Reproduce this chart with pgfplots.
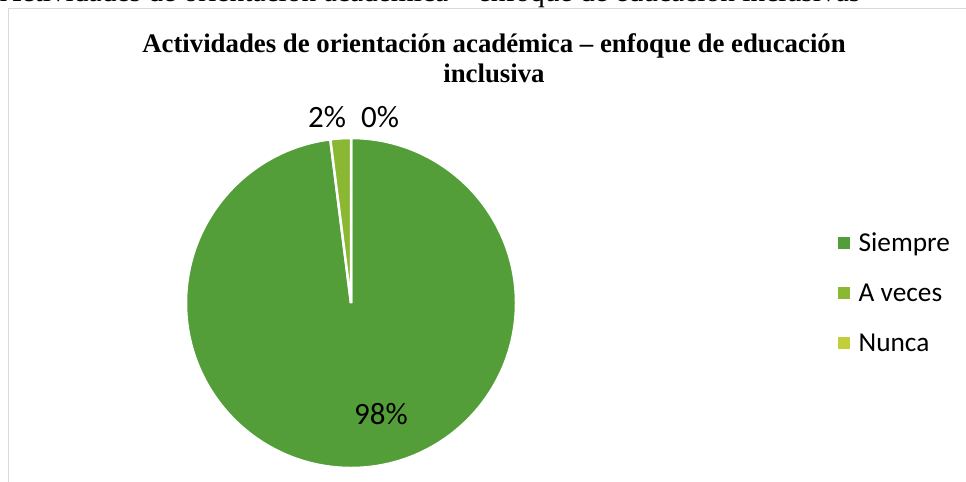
\documentclass[border=0pt]{standalone}
\usepackage{fontspec}
\setmainfont{Liberation Serif}
\newfontfamily\carlito{Carlito}
\usepackage{pgfplots}
\usepackage{pgfplotstable}
\pgfplotsset{compat=1.18}

\definecolor{siempre}{HTML}{549E39}
\definecolor{aveces}{HTML}{8AB833}
\definecolor{nunca}{HTML}{C0CF3A}
\definecolor{marco}{HTML}{D9D9D9}

% porcentajes de cada respuesta
\pgfplotstableread{
resp value
Siempre 98
Aveces 2
Nunca 0
}\piedata

\begin{document}
\begin{tikzpicture}[x=1bp,y=-1bp]
\path[use as bounding box] (0,0) rectangle (966,482);
\clip (0,0) rectangle (966,482);

% texto cortado arriba y marco del grafico
\node[anchor=base west,inner sep=0,font=\fontsize{29.5bp}{34bp}\selectfont] at (0,2)
  {Actividades de orientación académica – enfoque de educación inclusivas};
\draw[marco,line width=1.5bp] (8.5,8.5) rectangle (1100,700);

\node[anchor=base,inner sep=0,font=\bfseries\fontsize{26.8bp}{30bp}\selectfont] at (494,53)
  {Actividades de orientación académica – enfoque de educación};
\node[anchor=base,inner sep=0,font=\bfseries\fontsize{26.8bp}{30bp}\selectfont] at (494,83)
  {inclusiva};

\pgfplotstablegetelem{0}{value}\of\piedata \let\vA\pgfplotsretval
\pgfplotstablegetelem{1}{value}\of\piedata \let\vB\pgfplotsretval
\pgfplotstablegetelem{2}{value}\of\piedata \let\vC\pgfplotsretval
\pgfmathsetmacro\aA{90-3.6*\vA}
\pgfmathsetmacro\aB{\aA-3.6*\vB}
\pgfmathsetmacro\aC{\aB-3.6*\vC}

\begin{axis}[
  at={(351bp,-303bp)}, anchor=center,
  width=330bp, height=330bp, scale only axis,
  xmin=-1, xmax=1, ymin=-1, ymax=1,
  hide axis, clip=false,
  legend style={at={(axis description cs:1.976,0.53)}, anchor=west,
    draw=none, fill=none, inner sep=0pt, row sep=25bp,
    font=\carlito\fontsize{27.3bp}{30bp}\selectfont,
    nodes={text height=21bp, text depth=4bp, inner sep=0pt}},
  legend cell align=left,
]
\fill[siempre,draw=white,line width=2.5bp] (axis cs:0,0) -- ++(90:165bp)
  arc[start angle=90,end angle=\aA,radius=165bp] -- cycle;
\fill[aveces,draw=white,line width=2.5bp] (axis cs:0,0) -- ++(\aA:165bp)
  arc[start angle=\aA,end angle=\aB,radius=165bp] -- cycle;
\fill[nunca,draw=white,line width=2.5bp] (axis cs:0,0) -- ++(\aB:165bp)
  arc[start angle=\aB,end angle=\aC,radius=165bp] -- cycle;

\node[anchor=base,inner sep=0,font=\carlito\fontsize{31bp}{34bp}\selectfont]
  at (axis cs:0.182,-0.738) {98\%};
\node[anchor=base,inner sep=0,font=\carlito\fontsize{31bp}{34bp}\selectfont]
  at (axis cs:-0.145,1.064) {2\%};
\node[anchor=base,inner sep=0,font=\carlito\fontsize{31bp}{34bp}\selectfont]
  at (axis cs:0.176,1.064) {0\%};

\addlegendimage{legend image code/.code={\fill[siempre] (0bp,-5.5bp) rectangle (11bp,5.5bp); \path (20bp,0bp);}}
\addlegendentry{Siempre}
\addlegendimage{legend image code/.code={\fill[aveces] (0bp,-5.5bp) rectangle (11bp,5.5bp); \path (20bp,0bp);}}
\addlegendentry{A veces}
\addlegendimage{legend image code/.code={\fill[nunca] (0bp,-5.5bp) rectangle (11bp,5.5bp); \path (20bp,0bp);}}
\addlegendentry{Nunca}
\end{axis}
\end{tikzpicture}
\end{document}
